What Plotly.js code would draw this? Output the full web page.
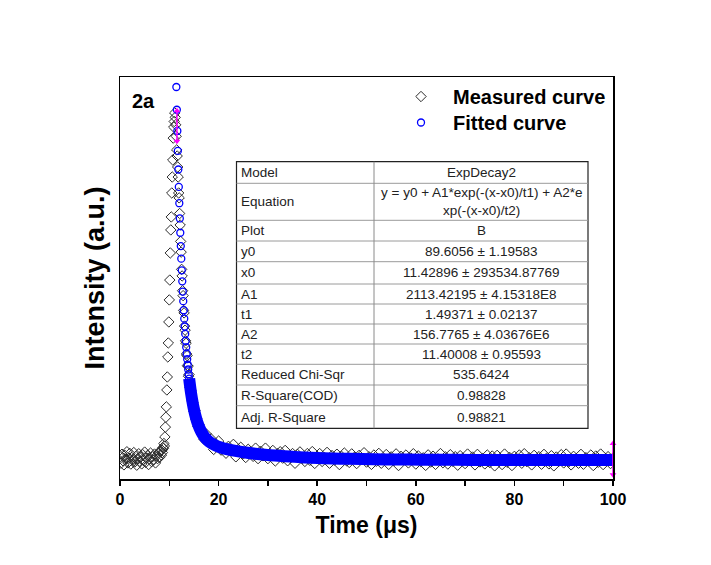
<!DOCTYPE html>
<html>
<head>
<meta charset="utf-8">
<script src="https://cdn.plot.ly/plotly-3.0.1.min.js"></script>
<style>html,body{margin:0;padding:0;background:#fff;}#chart{width:711px;height:565px;}</style>
</head>
<body>
<div id="chart"></div>
<script>
// ---------- data ----------
const measTime = [
0,0.2,0.4,0.6,0.8,1,1.2,1.4,1.6,1.8,2,2.2,2.4,2.6,2.8,3,3.2,3.4,3.6,3.8,4,4.2,4.4,4.6,4.8,5,5.2,5.4,5.6,5.8,6,6.2,6.4,6.6,6.8,7,7.2,7.4,7.6,7.8,8,8.2,8.4,
8.5,8.6,8.7,8.8,8.9,9,9.1,9.2,9.3,9.4,9.5,9.6,9.7,9.8,9.9,10,10.1,10.2,10.3,10.4,10.5,10.6,10.7,10.8,10.9,11,11.1,11.2,11.3,11.4,
11.5,11.6,11.7,11.8,11.9,12,12.1,12.2,12.3,12.4,12.5,12.6,12.7,12.8,12.9,13,13.1,13.2,13.3,13.4,13.5,13.6,13.7,13.8,13.9,14,
14.2,14.4,14.6,14.8,15,15.2,15.4,15.6,15.8,16,
16.5,17,17.5,18,18.5,19,19.5,20,20.5,21,
21.5,22,22.5,23,23.5,24,24.5,25,25.5,26,
26.5,27,27.5,28,28.5,29,29.5,30,30.5,31,
31.5,32,32.5,33,33.5,34,34.5,35,35.5,36,
36.5,37,37.5,38,38.5,39,39.5,40,40.5,41,
41.5,42,42.5,43,43.5,44,44.5,45,45.5,46,
46.5,47,47.5,48,48.5,49,49.5,50,50.5,51,
51.5,52,52.5,53,53.5,54,54.5,55,55.5,56,
56.5,57,57.5,58,58.5,59,59.5,60,60.5,61,
61.5,62,62.5,63,63.5,64,64.5,65,65.5,66,
66.5,67,67.5,68,68.5,69,69.5,70,70.5,71,
71.5,72,72.5,73,73.5,74,74.5,75,75.5,76,
76.5,77,77.5,78,78.5,79,79.5,80,80.5,81,
81.5,82,82.5,83,83.5,84,84.5,85,85.5,86,
86.5,87,87.5,88,88.5,89,89.5,90,90.5,91,
91.5,92,92.5,93,93.5,94,94.5,95,95.5,96,
96.5,97,97.5,98,98.5,99,99.5,100
];
const measIntensity = [
110,70,125,85,60,118,95,140,72,100,130,65,105,88,135,78,112,58,98,128,82,108,66,122,92,138,75,102,118,62,96,132,80,110,90,126,72,115,98,135,105,142,120,
150,135,165,160,190,175,230,290,350,413,516,595,717,802,930,1064,1185,1350,1490,1569,1715,1812,1916,2049,2116,2150,2202,2175,2130,2060,
1977,1940,1873,1812,1715,1685,1590,1520,1420,1355,1250,1210,1120,1090,1000,985,905,880,815,800,735,725,665,660,600,610,
530,515,450,440,385,390,335,345,295,305,
276,217,248,199,218,154,187,205,150,165,
131,173,145,185,109,154,167,127,105,155,
139,112,162,98,143,115,162,98,121,148,
84,129,140,101,148,85,116,129,70,124,
139,100,81,129,88,141,69,112,129,81,
104,136,70,117,89,125,62,110,132,84,
75,127,105,68,118,92,134,77,109,63,
120,82,130,70,96,123,63,109,85,127,
56,112,90,120,72,102,128,65,115,81,
103,57,121,77,113,63,97,129,73,109,
65,122,82,110,58,116,100,68,126,86,
108,60,124,78,98,66,120,74,114,54,
118,84,62,126,76,106,56,112,94,120,
70,128,80,104,60,118,88,110,64,124,
100,66,116,54,108,82,122,72,126,78,
60,112,96,70,124,64,104,86,120,56,
114,76,126,62,98,110,68,102
];
const fitTime = [11.43,11.53,11.63,11.73,11.83,11.93,12.03,12.13,12.23,12.33,12.43,12.53,12.63,12.73,12.83,12.93,13.03,13.13,13.23,13.33,13.43,
13.53,13.63,13.73,13.83,13.93,14.03,14.13,14.23,14.33,14.43,
14.93,15.43,15.93,16.43,16.93,17.43,
18.43,19.43,20.43,21.43,
23.43,25.43,27.43,29.43,31.43,
34.43,37.43,41.43,46.43,51.43,56.43,61.43,71.43,81.43,91.43,100];
const fitIntensity = [2359.8,2221.6,2092.3,1971.1,1857.9,1751.9,1652.7,1559.9,1472.9,1391.5,1315.3,1244.1,1177.3,1114.8,1056.3,1001.5,950.1,902.0,857.0,814.8,775.3,
738.1,703.6,670.8,640.6,611.9,585.2,560.0,536.7,514.5,493.9,
407.9,345.2,299.2,265.1,239.6,220.3,
193.9,177.3,165.9,157.4,
145.0,135.7,128.1,121.9,116.7,
110.5,105.6,100.9,96.9,94.3,92.6,91.6,90.4,89.95,89.75,89.67];
// magenta range markers (Origin data-range indicators)
const rangeMarkTime = [11.55, 100];
const rangeMarkTop = [2215, 190];
const rangeMarkBottom = [2030, 0];
// fit report table
const tableLabels = ["Model","Equation","Plot","y0","x0","A1","t1","A2","t2","Reduced Chi-Sqr","R-Square(COD)","Adj. R-Square"];
const tableValues = ["ExpDecay2","y = y0 + A1*exp(-(x-x0)/t1) + A2*e<br>xp(-(x-x0)/t2)","B","89.6056 ± 1.19583","11.42896 ± 293534.87769","2113.42195 ± 4.15318E8","1.49371 ± 0.02137","156.7765 ± 4.03676E6","11.40008 ± 0.95593","535.6424","0.98828","0.98821"];
const seriesNames = ["Measured curve","Fitted curve"];
const xTitle = "Time (μs)";
const yTitle = "Intensity (a.u.)";
const panelLabel = "2a";

// ---------- layout geometry ----------
const W = 711, H = 565;
const PL = 120, PR = 613, PT = 77, PB = 479;
const fx = X => (X - PL) / (PR - PL);
const fy = Y => (PB - Y) / (PB - PT);
const FONT = "Liberation Sans, Arial, sans-serif";

const bandStart = 26;
const traces = [
  {x: measTime, y: measIntensity, name: seriesNames[0], type: 'scatter', mode: 'markers', legend: 'legend',
   marker: {symbol: 'diamond-open', size: 8, color: '#2b2b2b', line: {width: 1}}},
  {x: fitTime.slice(bandStart), y: fitIntensity.slice(bandStart), type: 'scatter', mode: 'lines',
   showlegend: false, hoverinfo: 'skip', line: {color: '#0000ff', width: 12, shape: 'spline'}},
  {x: fitTime, y: fitIntensity, name: seriesNames[1], type: 'scatter', mode: 'markers', legend: 'legend2',
   marker: {symbol: 'circle-open', size: 7, color: '#0000ff', line: {width: 1.3}}},
];
rangeMarkTime.forEach((t, i) => {
  traces.push({x: [t, t], y: [rangeMarkTop[i], rangeMarkBottom[i]], type: 'scatter', mode: 'lines+markers',
    showlegend: false, cliponaxis: false, line: {color: '#ff00ff', width: 1.5},
    marker: {color: '#ff00ff', size: 6, symbol: ['triangle-up', 'triangle-down']}});
});

// table
const rows = [161.7, 183.3, 220.3, 241, 261.7, 284, 304, 324, 344, 364.3, 385, 405.7, 428.3];
const TL = 236.5, TM = 374, TR = 588;
const shapes = [{type: 'rect', xref: 'paper', yref: 'paper', x0: fx(TL), x1: fx(TR), y0: fy(rows[0]), y1: fy(rows[rows.length-1]),
  fillcolor: '#ffffff', line: {color: '#222', width: 1.2}, layer: 'above'}];
for (let i = 1; i < rows.length - 1; i++) {
  shapes.push({type: 'line', xref: 'paper', yref: 'paper', x0: fx(TL), x1: fx(TR), y0: fy(rows[i]), y1: fy(rows[i]),
    line: {color: '#9a9a9a', width: 1}, layer: 'above'});
}
shapes.push({type: 'line', xref: 'paper', yref: 'paper', x0: fx(TM), x1: fx(TM), y0: fy(rows[0]), y1: fy(rows[rows.length-1]),
  line: {color: '#8a8a8a', width: 1}, layer: 'above'});

const annotations = [];
tableLabels.forEach((lab, i) => {
  const yc = (rows[i] + rows[i+1]) / 2;
  annotations.push({xref: 'paper', yref: 'paper', x: fx(TL + 2), y: fy(yc), xanchor: 'left', yanchor: 'middle',
    text: lab, showarrow: false, font: {family: FONT, size: 13.5, color: '#222'}});
  annotations.push({xref: 'paper', yref: 'paper', x: fx((TM + TR) / 2), y: fy(yc), xanchor: 'center', yanchor: 'middle',
    text: tableValues[i], showarrow: false, font: {family: FONT, size: 13.5, color: '#222'}});
});
annotations.push({xref: 'paper', yref: 'paper', x: fx(143), y: fy(101), xanchor: 'center', yanchor: 'middle',
  text: panelLabel, showarrow: false, font: {family: FONT, size: 20, weight: 'bold', color: '#000'}});

const legendFont = {family: FONT, size: 20, weight: 'bold', color: '#000'};
const layout = {
  width: W, height: H,
  margin: {l: PL, r: W - PR, t: PT, b: H - PB, pad: 0},
  paper_bgcolor: '#fff', plot_bgcolor: '#fff',
  showlegend: true,
  legend: {x: fx(389), y: fy(77), xanchor: 'left', yanchor: 'top', bgcolor: 'rgba(0,0,0,0)',
    font: legendFont, itemsizing: 'trace', itemwidth: 54},
  legend2: {x: fx(389), y: fy(103), xanchor: 'left', yanchor: 'top', bgcolor: 'rgba(0,0,0,0)',
    font: legendFont, itemsizing: 'trace', itemwidth: 54},
  xaxis: {range: [0, 100], showgrid: false, zeroline: false, showline: true, linecolor: '#000', linewidth: 1.5, mirror: true,
    ticks: 'outside', ticklen: 5, tickwidth: 1.5, tickcolor: '#000', dtick: 20, tick0: 0,
    minor: {dtick: 10, ticks: 'outside', ticklen: 5, tickwidth: 1.5, tickcolor: '#000'},
    tickfont: {family: FONT, size: 16, weight: 'bold', color: '#000'},
    title: {text: xTitle, standoff: 10, font: {family: FONT, size: 23, weight: 'bold', color: '#000'}}},
  yaxis: {range: [-25.9, 2420.8], showgrid: false, zeroline: false, showline: true, linecolor: '#000', linewidth: 1.5, mirror: true,
    ticks: '', showticklabels: false, automargin: true,
    title: {text: yTitle, standoff: 6, font: {family: FONT, size: 27, weight: 'bold', color: '#000'}}},
  shapes: shapes,
  annotations: annotations,
};
Plotly.newPlot('chart', traces, layout, {displayModeBar: false, staticPlot: true});
</script>
</body>
</html>
